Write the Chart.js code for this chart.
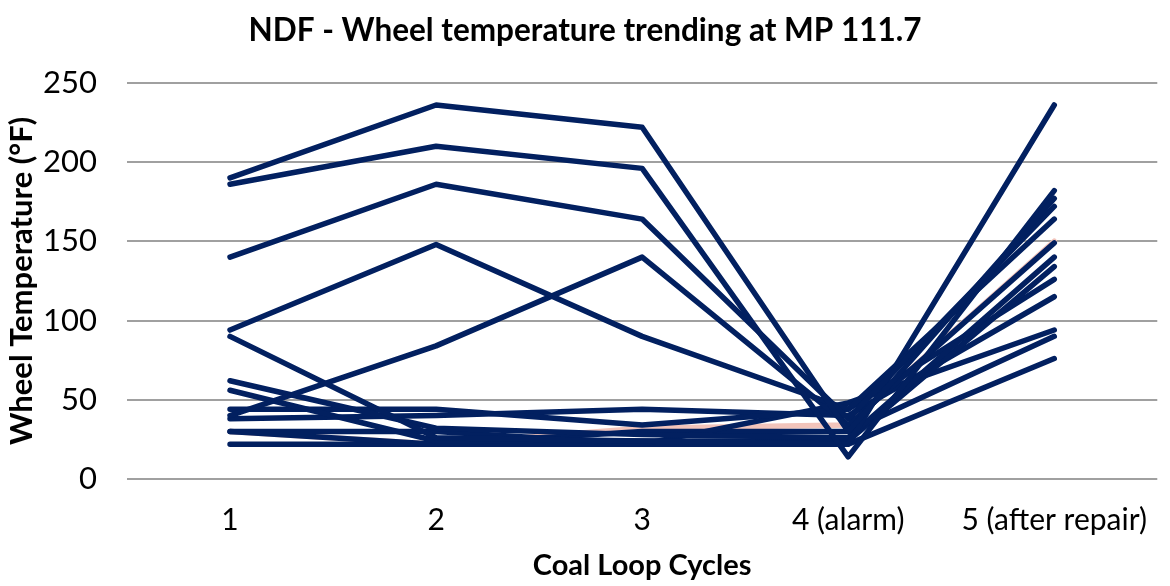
<!DOCTYPE html>
<html>
<head>
<meta charset="utf-8">
<script src="https://cdn.jsdelivr.net/npm/chart.js@4"></script>
<style>
  html, body { margin: 0; padding: 0; background: #fff; }
  #wrap { width: 1170px; height: 586px; }
</style>
</head>
<body>
<div id="wrap"><canvas id="wheelChart"></canvas></div>
<script>
const cycles = ["1", "2", "3", "4 (alarm)", "5 (after repair)"];

// one array per wheel, temperature in °F per cycle
const wheel1 = [190, 236, 222, 30, 177];
const wheel2 = [186, 210, 196, 14, 182];
const wheel3 = [140, 186, 164, 38, 172];
const wheel4 = [94, 148, 90, 44, 164];
const wheel5 = [90, 26, 24, 22, 236];
const wheel6 = [40, 84, 140, 34, 149];
const wheel7 = [62, 32, 28, 26, 140];
const wheel8 = [56, 24, 24, 24, 134];
const wheel9 = [44, 44, 34, 44, 126];
const wheel10 = [38, 40, 44, 40, 115];
const wheel11 = [30, 30, 22, 48, 94];
const wheel12 = [30, 22, 30, 30, 90];
const wheel13 = [22, 22, 22, 22, 76];
const wheel14 = [30, 22, 32, 34, 150];

const yTicks = [0, 50, 100, 150, 200, 250];

const navy = "#022060";
const wheels = [wheel1, wheel2, wheel3, wheel4, wheel5, wheel6, wheel7,
                wheel8, wheel9, wheel10, wheel11, wheel12, wheel13];

const datasets = wheels.map((w, i) => ({
    label: "Wheel " + (i + 1),
    data: w,
    borderColor: navy,
    backgroundColor: navy,
    borderWidth: 5.5,
    pointRadius: 0,
    tension: 0,
    fill: false,
    borderCapStyle: "round",
    borderJoinStyle: "round"
}));
// faint pink series sits underneath the navy ones
datasets.push({
    label: "Wheel 14",
    data: wheel14,
    borderColor: "#f2c4bb",
    borderWidth: 5.5,
    pointRadius: 0,
    tension: 0,
    fill: false,
    borderCapStyle: "round",
    borderJoinStyle: "round"
});

const font = "Lato, 'Open Sans', sans-serif";

new Chart(document.getElementById("wheelChart").getContext("2d"), {
    type: "line",
    data: { labels: cycles, datasets: datasets },
    options: {
        responsive: true,
        maintainAspectRatio: false,
        animation: false,
        layout: { padding: 0 },
        plugins: {
            legend: { display: false },
            tooltip: { enabled: false },
            title: {
                display: true,
                text: "NDF - Wheel temperature trending at MP 111.7",
                color: "#000",
                font: { family: font, size: 31.5, weight: "bold" },
                padding: { top: 12, bottom: 33 }
            }
        },
        scales: {
            x: {
                offset: true,
                grid: { display: false, drawTicks: false },
                border: { display: false },
                ticks: {
                    color: "#000",
                    font: { family: font, size: 30 },
                    padding: 23,
                    maxRotation: 0,
                    autoSkip: false
                },
                title: {
                    display: true,
                    text: "Coal Loop Cycles",
                    color: "#000",
                    font: { family: font, size: 29, weight: "bold" },
                    padding: { top: 0, bottom: 3 }
                },
                afterFit: s => { s.height = 107; }
            },
            y: {
                min: 0,
                max: 250,
                afterBuildTicks: s => { s.ticks = yTicks.map(v => ({ value: v })); },
                grid: { color: "#a0a0a0", lineWidth: 2, drawTicks: false },
                border: { display: false },
                ticks: {
                    color: "#000",
                    font: { family: font, size: 31 },
                    padding: 30
                },
                title: {
                    display: true,
                    text: "Wheel Temperature (°F)",
                    color: "#000",
                    font: { family: font, size: 31, weight: "bold" },
                    padding: { top: 3, bottom: 0 }
                },
                afterFit: s => { s.width = 127; }
            }
        }
    }
});
</script>
</body>
</html>
